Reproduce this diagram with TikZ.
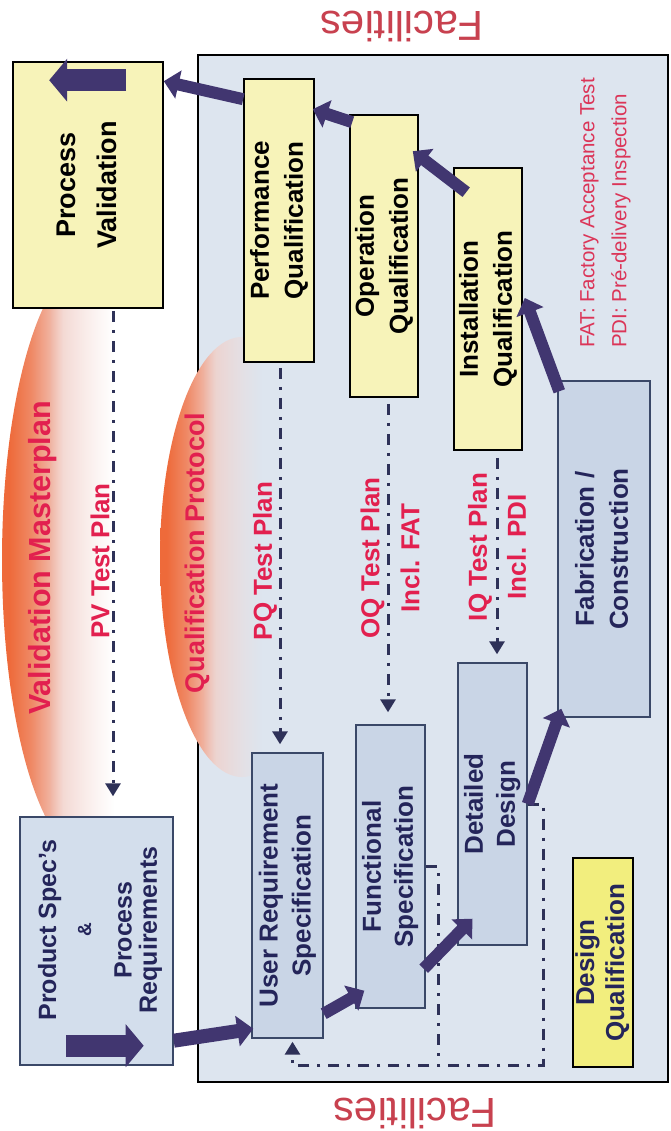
\documentclass[tikz,border=0pt]{standalone}
\usepackage{fontspec}
\setmainfont{Liberation Sans}
\usepackage{graphicx}
\usetikzlibrary{arrows.meta,fadings}

\definecolor{panelc}{HTML}{DDE5EF}
\definecolor{bluebox}{HTML}{C9D5E6}
\definecolor{psbox}{HTML}{D3DEEC}
\definecolor{blueedge}{HTML}{3A4868}
\definecolor{yelbox}{HTML}{F7F3B9}
\definecolor{dqyel}{HTML}{F2EE7E}
\definecolor{arrowc}{HTML}{413670}
\definecolor{dashc}{HTML}{2E3158}
\definecolor{redtxt}{HTML}{E2204F}
\definecolor{factxt}{HTML}{C8414F}
\definecolor{legtxt}{HTML}{DB3558}
\definecolor{navytxt}{HTML}{24255A}
\definecolor{lensorange}{HTML}{EE6A3A}
\definecolor{lenspink}{HTML}{F1CFC8}

\pgfdeclarehorizontalshading{lensshade}{100bp}{color(0bp)=(lensorange); color(27bp)=(lensorange); color(33bp)=(lensorange!70!lenspink); color(42bp)=(lenspink); color(75bp)=(lenspink!40!white); color(100bp)=(lenspink!40!white)}
\pgfdeclarehorizontalshading{lensfadeshade}{100bp}{color(0bp)=(white); color(38bp)=(white); color(47bp)=(black!50); color(56bp)=(black); color(100bp)=(black)}
\pgfdeclarefading{lensfade}{\pgfuseshading{lensfadeshade}}

\newcommand{\vtext}[3][34]{\rotatebox{90}{\fontsize{#2}{#1}\selectfont\bfseries\begin{tabular}{@{}c@{}}#3\end{tabular}}}

\tikzset{
  yelnode/.style={draw=black, fill=yelbox, line width=1.6pt, inner sep=0pt, text=black},
  bluenode/.style={draw=blueedge, fill=bluebox, line width=1.4pt, inner sep=0pt, text=navytxt},
  bigarrow/.style={draw=arrowc, line width=22pt, -{Triangle[length=18pt,width=42pt]}},
  blockarrow/.style={draw=arrowc, line width=12pt, -{Triangle[length=15pt,width=28pt]}},
  dashdot/.style={draw=dashc, line width=3pt, dash pattern=on 11pt off 8pt on 3pt off 8pt},
  dashtip/.style={-{Triangle[length=13pt,width=15pt]}},
  redlabel/.style={text=redtxt, font=\bfseries\fontsize{26}{40}\selectfont, align=center, inner sep=0pt},
  lens/.style={shading=lensshade, path fading=lensfade},
}

\begin{document}
\begin{tikzpicture}[x=1pt,y=-1pt]
\useasboundingbox (0,0) rectangle (671,1131);
\fill[white] (0,0) rectangle (671,1131);

% facilities panel
\draw[fill=panelc, line width=2.5pt] (198,55) rectangle (668,1082);

% lenses
\shade[lens] (92,560) ellipse [x radius=90, y radius=300];
\shade[lens] (242,557) ellipse [x radius=82, y radius=220];

% Facilities labels
\node[rotate=180, text=factxt, font=\fontsize{42}{50}\selectfont, inner sep=0pt] (factop) at (402,27) {Facilities};
\node[rotate=180, text=factxt, font=\fontsize{42}{50}\selectfont, inner sep=0pt] (facbot) at (415,1113) {Facilities};

% boxes
\node[yelnode, minimum width=150pt, minimum height=246pt] (pv) at (88,185) {\vtext[41]{27}{Process\\Validation}};
\node[yelnode, minimum width=70pt, minimum height=283pt] (pq) at (279,220.5) {\vtext{26}{Performance\\Qualification}};
\node[yelnode, minimum width=68pt, minimum height=282pt] (oq) at (384,256) {\vtext{26}{Operation\\Qualification}};
\node[yelnode, minimum width=68pt, minimum height=282pt] (iq) at (488,309) {\vtext{26}{Installation\\Qualification}};
\node[bluenode, minimum width=92pt, minimum height=336pt] (fab) at (604,549) {\vtext{26}{Fabrication /\\Construction}};
\node[bluenode, minimum width=69pt, minimum height=282pt] (dd) at (492.5,804) {\vtext[32]{26}{Detailed\\Design}};
\node[bluenode, minimum width=69pt, minimum height=283pt] (fs) at (390.5,866.5) {\vtext[32]{26}{Functional\\Specification}};
\node[bluenode, minimum width=71pt, minimum height=285pt] (urs) at (287.5,895.5) {\vtext[33]{26}{User Requirement\\Specification}};
\node[yelnode, fill=dqyel, minimum width=60pt, minimum height=209pt, text=navytxt] (dq) at (603,962.5) {\vtext[30]{26}{Design\\Qualification}};
\node[bluenode, fill=psbox, minimum width=153pt, minimum height=248pt] (ps) at (96.5,941) {};
\node[text=navytxt, inner sep=0pt] (pstext) at (101,930) {\rotatebox{90}{\fontsize{25}{24}\selectfont\bfseries\begin{tabular}{@{}c@{}}Product Spec's\\[11pt]{\fontsize{19}{19}\selectfont \&}\\[16pt]Process\\Requirements\end{tabular}}};

% red labels in lenses
\node[redlabel, rotate=90, font=\bfseries\fontsize{30.5}{36}\selectfont] (vmp) at (43,558) {Validation Masterplan};
\node[redlabel, rotate=90, font=\bfseries\fontsize{27}{36}\selectfont] (qp) at (197,553) {Qualification Protocol};

% dashed test plan arrows
\draw[dashdot, dashtip] ([shift={(25,2)}]pv.south) -- ([shift={(16.5,-20)}]ps.north);
\draw[dashdot, dashtip] ([shift={(1,5)}]pq.south) -- ([shift={(-7.5,-8)}]urs.north);
\draw[dashdot, dashtip] ([shift={(4,6)}]oq.south) -- ([shift={(-2.5,-12)}]fs.north);
\draw[dashdot, dashtip] ([shift={(9,7)}]iq.south) -- ([shift={(4.5,-8)}]dd.north);

% feedback dashed lines
\coordinate (fbr) at (543,1065);
\coordinate (fbm) at (438,1065);
\draw[dashdot, dashtip] (dd.east) -| (fbr) -| ([shift={(5,3)}]urs.south);
\draw[dashdot] (fs.east) -| (fbm);

% test plan labels
\node[redlabel, rotate=90] (pvtp) at (100,561) {PV Test Plan};
\node[redlabel, rotate=90] (pqtp) at (265,561) {PQ Test Plan};
\node[redlabel, rotate=90] (oqtp) at (390,558) {OQ Test Plan\\Incl. FAT};
\node[redlabel, rotate=90, font=\bfseries\fontsize{26}{39}\selectfont] (iqtp) at (497,547) {IQ Test Plan\\Incl. PDI};

% legend
\node[text=legtxt, inner sep=0pt, anchor=south] (legend) at (604,348) {\rotatebox{90}{\fontsize{20.5}{32}\selectfont\begin{tabular}{@{}l@{}}FAT: Factory Acceptance Test\\PDI: Pré-delivery Inspection\end{tabular}}};

% block arrows
\draw[bigarrow] ([shift={(47,-20)}]ps.south west) -- ([shift={(-30,-20)}]ps.south east);
\draw[blockarrow, line width=14pt, -{Triangle[length=16pt,width=30pt]}] ([shift={(0,-25)}]ps.south east) -- ([shift={(2,-10)}]urs.south west);
\draw[blockarrow] ([shift={(0,-25)}]urs.south east) -- ([shift={(9,-18)}]fs.south west);
\draw[blockarrow] ([shift={(-2,-40)}]fs.south east) -- ([shift={(15,-27)}]dd.south west);
\draw[blockarrow] (dd.east) -- ([shift={(4,-9)}]fab.south west);
\draw[blockarrow] ([shift={(2,11)}]fab.north west) -- ([shift={(2,-11)}]iq.east);
\draw[blockarrow] ([shift={(13,25)}]iq.north west) -- ([shift={(-6,37)}]oq.north east);
\draw[blockarrow] ([shift={(3,8)}]oq.north west) -- ([shift={(-2,31)}]pq.north east);
\draw[blockarrow] ([shift={(0,21)}]pq.north west) -- ([shift={(0,20)}]pv.north east);
\draw[bigarrow] ([shift={(114,19)}]pv.north west) -- ([shift={(37,19)}]pv.north west);
\end{tikzpicture}
\end{document}
